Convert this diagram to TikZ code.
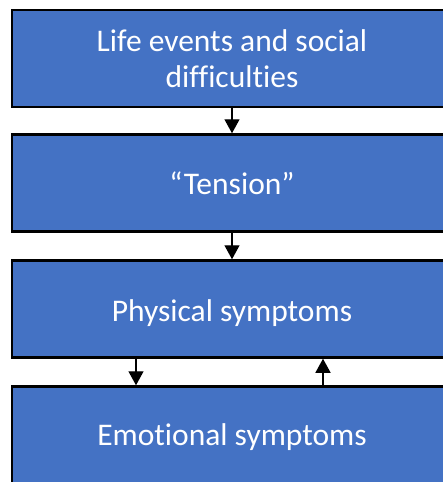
\documentclass[tikz,border=0pt]{standalone}
\usepackage{fontspec}
\setmainfont{Carlito}[Ligatures={NoCommon,NoRequired,NoContextual}]
\usetikzlibrary{arrows.meta}
\definecolor{boxblue}{HTML}{4472C4}
\tikzset{
  box/.style={draw=black, line width=2.5pt, fill=boxblue,
    minimum width=440pt, minimum height=97pt, inner sep=0pt},
  lbl/.style={text=white, inner sep=0pt, anchor=base,
    font=\fontsize{31.5}{38}\selectfont},
  arr/.style={draw=black, line width=1.4pt, -{Triangle[width=15pt,length=14pt]}}
}
\begin{document}
\begin{tikzpicture}[x=1pt,y=-1pt]
\useasboundingbox (0,0) rectangle (443,482);
\clip (0,0) rectangle (443,482);
\node[box] (b1) at (232,58.5) {};
\node[box] (b2) at (232,183) {};
\node[box] (b3) at (232,309) {};
\node[box] (b4) at (232,435) {};
\node[lbl] (t1a) at (232,51) {Life events and social};
\node[lbl] (t1b) at (232,87) {difficulties};
\node[lbl] (t2) at (232,194) {“Tension”};
\node[lbl] (t3) at (232,321) {Physical symptoms};
\node[lbl] (t4) at (232,445) {Emotional symptoms};
\coordinate (dx) at (136,0);
\coordinate (ux) at (323,0);
\draw[arr] (b1.south) -- (b2.north);
\draw[arr] (b2.south) -- (b3.north);
\draw[arr] (b3.south -| dx) -- (b4.north -| dx);
\draw[arr] (b4.north -| ux) -- (b3.south -| ux);
\end{tikzpicture}
\end{document}
